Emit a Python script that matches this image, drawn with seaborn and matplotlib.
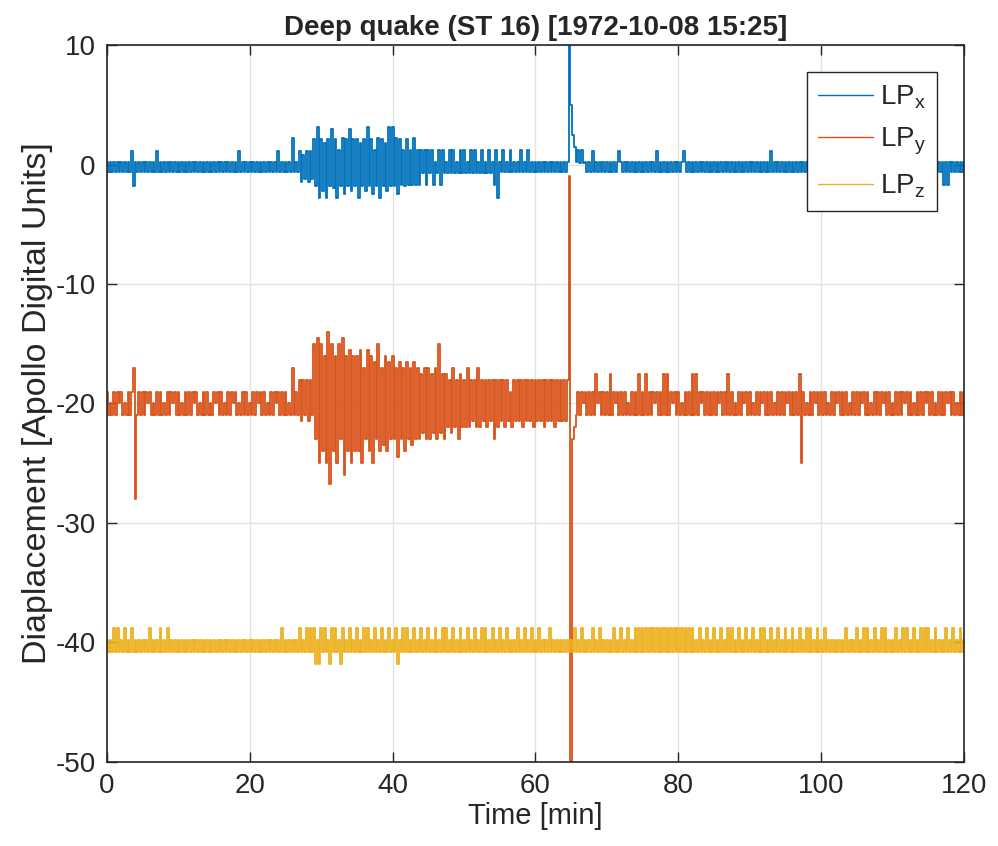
import numpy as np
import matplotlib
matplotlib.use("Agg")
import matplotlib.pyplot as plt
import seaborn as sns

# Sample step of the traces [min]; every row below covers 5 min (20 samples)
step_min = 0.25

lp_x_rows = [
    [0.2, -0.6, 0.2, -0.6, 0.2, -0.6, 0.2, -0.6, 0.2, -0.6, 0.2, -0.6, 0.2, -0.6, 1.1, -1.8, 0.2, -0.6, 0.2, -0.6],
    [0.2, -0.6, 0.2, -0.6, 0.2, -0.6, 0.2, -0.6, 1.1, -0.6, 0.2, -0.6, 0.2, -0.6, 0.2, -0.6, 0.2, -0.6, 0.2, -0.6],
    [0.2, -0.6, 0.2, -0.6, 0.2, -0.6, 0.2, -0.6, 0.2, -0.6, 0.2, -0.6, 0.2, -0.6, 0.2, -0.6, 0.2, -0.6, 0.2, -0.6],
    [0.2, -0.6, 0.2, -0.6, 0.2, -0.6, 0.2, -0.6, 0.2, -0.6, 0.2, -0.6, 0.2, -0.6, 1.1, -0.6, 0.2, -0.6, 0.2, -0.6],
    [0.2, -0.6, 0.2, -0.6, 0.2, -0.6, 0.2, -0.6, 0.2, -0.6, 0.2, -0.6, 0.2, -0.6, 0.2, -0.6, 1.1, -0.6, 0.2, -0.6],
    [0.2, -0.6, 0.2, -0.6, 2.2, -0.6, 0.2, -0.6, 1.1, -1.5, 0.8, -1.2, 1.1, -1.5, 1.1, -1.2, 2.1, -1.8, 3.1, -2.8],
    [2.1, -2.2, 1.8, -2.8, 2.1, -1.8, 3.0, -2.0, 2.1, -2.8, 1.2, -1.8, 2.2, -2.5, 2.1, -1.8, 3.0, -2.2, 2.1, -1.8],
    [2.1, -2.8, 1.8, -1.8, 2.1, -2.2, 3.1, -1.8, 2.1, -2.5, 1.2, -1.8, 2.2, -2.8, 2.1, -1.8, 1.8, -2.2, 3.1, -1.8],
    [3.1, -1.8, 2.2, -2.5, 2.1, -1.7, 1.2, -1.8, 2.1, -1.7, 1.2, -1.7, 2.2, -1.7, 1.2, -1.7, 1.2, -0.7, 1.2, -1.7],
    [1.2, -0.7, 1.2, -1.7, 0.2, -0.7, 1.2, -1.7, 1.2, -0.7, 0.2, -0.7, 1.2, -0.7, 1.2, -0.7, 0.2, -0.7, 1.2, -0.7],
    [1.2, -0.7, 0.2, -0.7, 1.2, -0.7, 1.2, -0.7, 0.2, -0.7, 1.2, -0.7, 0.2, -0.7, 1.2, -0.7, 0.2, -1.7, 1.2, -2.8],
    [0.2, -0.6, 1.2, -0.6, 0.2, -0.6, 1.2, -0.6, 0.2, -0.6, 0.2, -0.6, 1.2, -0.6, 0.2, -0.6, 1.2, -0.6, 0.2, -0.6],
    [0.2, -0.6, 0.2, -0.6, 0.2, -0.6, 0.2, -0.6, 0.2, -0.6, 0.2, -0.6, 0.2, -0.6, 0.2, -0.6, 0.2, -0.6, 0.2, 12.0],
    [5.0, 2.5, 1.5, 0.2, 1.2, 0.1, 1.2, 0.1, 0.2, -0.6, 0.2, -0.6, 1.1, -0.6, 0.2, -0.6, 0.2, -0.6, 0.2, -0.6],
    [0.2, -0.6, 0.2, -0.6, 0.2, -0.6, 0.2, 1.1, 0.2, -0.6, 0.2, -0.6, 0.2, -0.6, 0.2, -0.6, 0.2, -0.6, 0.2, -0.6],
    [0.2, -0.6, 0.2, -0.6, 0.2, -0.6, 0.2, -0.6, 1.1, -0.6, 0.2, -0.6, 0.2, -0.6, 0.2, -0.6, 0.2, -0.6, 0.2, -0.6],
    [0.2, -0.6, 0.2, 1.1, 0.2, -0.6, 0.2, -0.6, 0.2, -0.6, 0.2, -0.6, 0.2, -0.6, 0.2, -0.6, 0.2, -0.6, 0.2, -0.6],
    [0.2, -0.6, 0.2, -0.6, 0.2, -0.6, 0.2, -0.6, 0.2, -0.6, 0.2, -0.6, 0.2, -0.6, 0.2, -0.6, 0.2, -0.6, 0.2, -0.6],
    [0.2, -0.6, 0.2, -0.6, 0.2, -0.6, 0.2, -0.6, 0.2, -0.6, 0.2, -0.6, 1.1, -0.6, 0.2, -0.6, 0.2, -0.6, 0.2, -0.6],
    [0.2, -0.6, 0.2, -0.6, 0.2, -0.6, 0.2, -0.6, 0.2, -0.6, 0.2, -0.6, 0.2, -0.6, 0.2, -0.6, 0.2, -0.6, 0.2, -0.6],
    [0.2, -0.6, 0.2, -0.6, 0.2, -0.6, 0.2, -0.6, 0.2, -0.6, 0.2, -0.6, 0.2, -0.6, 0.2, -0.6, 0.2, -0.6, 0.2, -0.6],
    [0.2, -0.6, 0.2, -0.6, 0.2, -0.6, 0.2, -0.6, 0.2, -0.6, 0.2, -0.6, 0.2, -0.6, 0.2, -0.6, 0.2, -0.6, 0.2, -0.6],
    [0.2, -0.6, 0.2, -0.6, 0.2, -0.6, 0.2, -0.6, 0.2, -0.6, 0.2, -0.6, 0.2, -0.6, 0.2, -0.6, 0.2, -0.6, 0.2, -0.6],
    [0.2, -0.6, 0.2, -0.6, 0.2, -0.6, 0.2, -0.6, 0.2, -1.7, 0.2, -1.7, 0.2, -0.6, 0.2, -0.6, 0.2, -0.6, 0.2, -0.6],
    [0.2],
]

lp_y_rows = [
    [-19, -21, -20, -21, -19, -21, -19, -20, -19, -21, -20, -21, -19, -21, -19, -17, -28, -21, -19, -21],
    [-19, -21, -19, -20, -19, -21, -20, -21, -19, -21, -19, -21, -20, -21, -19, -21, -19, -20, -19, -21],
    [-19, -21, -20, -21, -19, -21, -19, -21, -19, -20, -19, -21, -20, -21, -19, -21, -19, -21, -20, -21],
    [-19, -20, -19, -21, -19, -21, -20, -21, -19, -21, -19, -20, -19, -21, -20, -21, -19, -21, -19, -21],
    [-20, -21, -19, -21, -19, -20, -19, -21, -19, -21, -20, -21, -19, -21, -19, -20, -19, -21, -19, -21],
    [-19, -21, -20, -21, -17, -21, -19, -21, -18, -21.5, -18, -21, -18, -21.5, -18, -21, -15, -23, -14.5, -25],
    [-15, -24, -16, -25, -14, -26.7, -15, -24, -16, -25, -15, -23, -14.5, -26, -16, -24, -15.5, -25, -16, -24],
    [-16, -24, -15.5, -25, -17, -23, -15.5, -24, -16, -25, -16.5, -23, -15, -24, -17, -23.5, -16, -24, -16.5, -23],
    [-16, -23, -17, -24.5, -16.5, -23, -17, -24, -16.5, -23, -17, -23.5, -16.5, -23, -17, -23, -17.5, -22.5, -17, -23],
    [-17, -23, -17.5, -22.5, -17, -23, -15, -22.5, -17.5, -23, -17.5, -22, -18, -22.5, -17, -22, -18, -23, -17.5, -22],
    [-18, -22, -17, -22, -18, -21.5, -18, -22, -17, -22, -18, -21.5, -18, -22, -18, -21.5, -18, -23, -18, -22],
    [-18, -21.5, -18, -22, -18, -21.5, -19, -22, -18, -21.5, -18, -21.5, -18, -22, -18, -21.5, -18, -21.5, -18, -22],
    [-18, -21.5, -18, -21.5, -18, -22, -18, -21.5, -18, -21.5, -18, -22, -18, -21.5, -18, -21.5, -18, -21.5, -18, -1],
    [-60, -23, -22, -21, -19, -21, -19, -20, -19, -21, -19, -21, -19, -21, -17.5, -20, -19, -21, -19, -21],
    [-19, -21, -17.5, -21, -19, -20, -19, -21, -19, -21, -19, -21, -20, -21, -19, -21, -19, -21, -17.5, -21],
    [-19, -21, -17.5, -21, -19, -21, -19, -20, -19, -21, -19, -21, -17.5, -21, -17.5, -21, -19, -20, -19, -21],
    [-19, -21, -20, -21, -19, -21, -19, -21, -17.5, -21, -17.5, -21, -19, -20, -19, -21, -19, -21, -19, -21],
    [-19, -21, -19, -20, -19, -21, -19, -21, -17.5, -21, -19, -21, -20, -21, -19, -21, -19, -20, -19, -21],
    [-19, -21, -20, -21, -19, -21, -19, -20, -19, -21, -19, -21, -19, -21, -20, -21, -19, -21, -19, -21],
    [-19, -20, -19, -21, -19, -21, -19, -21, -17.5, -25, -19, -21, -20, -21, -19, -21, -19, -20, -19, -21],
    [-19, -21, -19, -21, -20, -21, -19, -21, -19, -20, -19, -21, -19, -21, -19, -21, -20, -21, -19, -21],
    [-19, -21, -19, -20, -19, -21, -19, -21, -20, -21, -19, -21, -19, -21, -19, -20, -19, -21, -19, -21],
    [-20, -21, -19, -21, -19, -21, -19, -20, -19, -21, -19, -21, -20, -21, -19, -21, -19, -21, -19, -20],
    [-19, -21, -19, -21, -20, -21, -19, -21, -19, -21, -19, -20, -19, -21, -19, -21, -20, -21, -19, -21],
    [-19],
]

lp_z_rows = [
    [-39.8, -40.8, -39.8, -40.8, -38.8, -40.8, -38.8, -40.8, -39.8, -40.8, -38.8, -40.8, -39.8, -40.8, -38.8, -40.8, -39.8, -40.8, -39.8, -40.8],
    [-39.8, -40.8, -39.8, -40.8, -38.8, -40.8, -39.8, -40.8, -39.8, -40.8, -38.8, -40.8, -39.8, -40.8, -38.8, -40.8, -39.8, -40.8, -39.8, -40.8],
    [-39.8, -40.8, -39.8, -40.8, -39.8, -40.8, -39.8, -40.8, -39.8, -40.8, -39.8, -40.8, -39.8, -40.8, -39.8, -40.8, -39.8, -40.8, -39.8, -40.8],
    [-39.8, -40.8, -39.8, -40.8, -39.8, -40.8, -39.8, -40.8, -39.8, -40.8, -39.8, -40.8, -39.8, -40.8, -39.8, -40.8, -39.8, -40.8, -39.8, -40.8],
    [-39.8, -40.8, -39.8, -40.8, -39.8, -40.8, -39.8, -40.8, -39.8, -40.8, -39.8, -40.8, -39.8, -40.8, -39.8, -40.8, -39.8, -40.8, -38.8, -40.8],
    [-39.8, -40.8, -39.8, -40.8, -39.8, -40.8, -39.8, -40.8, -38.8, -40.8, -39.8, -40.8, -38.8, -40.8, -38.8, -40.8, -38.8, -41.8, -39.8, -41.8],
    [-38.8, -40.8, -38.8, -40.8, -39.8, -41.8, -38.8, -40.8, -38.8, -40.8, -39.8, -41.8, -38.8, -40.8, -39.8, -40.8, -38.8, -40.8, -39.8, -40.8],
    [-38.8, -40.8, -39.8, -40.8, -38.8, -40.8, -38.8, -40.8, -39.8, -40.8, -38.8, -40.8, -39.8, -40.8, -38.8, -40.8, -39.8, -40.8, -38.8, -40.8],
    [-39.8, -40.8, -38.8, -41.8, -39.8, -40.8, -38.8, -40.8, -38.8, -40.8, -39.8, -40.8, -38.8, -40.8, -39.8, -40.8, -38.8, -40.8, -39.8, -40.8],
    [-38.8, -40.8, -39.8, -40.8, -38.8, -40.8, -39.8, -40.8, -38.8, -40.8, -38.8, -40.8, -39.8, -40.8, -38.8, -40.8, -39.8, -40.8, -38.8, -40.8],
    [-39.8, -40.8, -38.8, -40.8, -39.8, -40.8, -38.8, -40.8, -39.8, -40.8, -38.8, -40.8, -38.8, -40.8, -39.8, -40.8, -38.8, -40.8, -39.8, -40.8],
    [-38.8, -40.8, -39.8, -40.8, -38.8, -40.8, -39.8, -40.8, -39.8, -40.8, -38.8, -40.8, -39.8, -40.8, -38.8, -40.8, -39.8, -40.8, -38.8, -40.8],
    [-39.8, -40.8, -38.8, -40.8, -39.8, -40.8, -39.8, -40.8, -38.8, -40.8, -39.8, -40.8, -39.8, -40.8, -39.8, -40.8, -39.8, -40.8, -39.8, -40.8],
    [-39.8, -40.8, -38.8, -40.8, -39.8, -40.8, -38.8, -40.8, -39.8, -40.8, -39.8, -40.8, -38.8, -40.8, -39.8, -40.8, -38.8, -40.8, -39.8, -40.8],
    [-39.8, -40.8, -39.8, -40.8, -38.8, -40.8, -39.8, -40.8, -38.8, -40.8, -39.8, -40.8, -38.8, -40.8, -39.8, -40.8, -38.8, -40.8, -38.8, -40.8],
    [-38.8, -40.8, -38.8, -40.8, -38.8, -40.8, -38.8, -40.8, -38.8, -40.8, -38.8, -40.8, -38.8, -40.8, -38.8, -40.8, -38.8, -40.8, -38.8, -40.8],
    [-38.8, -40.8, -38.8, -40.8, -38.8, -40.8, -38.8, -40.8, -38.8, -40.8, -39.8, -40.8, -38.8, -40.8, -39.8, -40.8, -38.8, -40.8, -39.8, -40.8],
    [-38.8, -40.8, -39.8, -40.8, -38.8, -40.8, -39.8, -40.8, -38.8, -40.8, -38.8, -40.8, -39.8, -40.8, -38.8, -40.8, -39.8, -40.8, -38.8, -40.8],
    [-39.8, -40.8, -38.8, -40.8, -39.8, -40.8, -38.8, -40.8, -38.8, -40.8, -39.8, -40.8, -38.8, -40.8, -39.8, -40.8, -38.8, -40.8, -39.8, -40.8],
    [-38.8, -40.8, -39.8, -40.8, -38.8, -40.8, -39.8, -40.8, -38.8, -40.8, -39.8, -40.8, -38.8, -40.8, -38.8, -40.8, -39.8, -40.8, -38.8, -40.8],
    [-39.8, -40.8, -38.8, -40.8, -39.8, -40.8, -39.8, -40.8, -39.8, -40.8, -39.8, -40.8, -39.8, -40.8, -38.8, -40.8, -39.8, -40.8, -39.8, -40.8],
    [-38.8, -40.8, -39.8, -40.8, -38.8, -40.8, -38.8, -40.8, -39.8, -40.8, -38.8, -40.8, -39.8, -40.8, -38.8, -40.8, -38.8, -40.8, -39.8, -40.8],
    [-39.8, -40.8, -38.8, -40.8, -39.8, -40.8, -38.8, -40.8, -38.8, -40.8, -39.8, -40.8, -38.8, -40.8, -39.8, -40.8, -38.8, -40.8, -38.8, -40.8],
    [-38.8, -40.8, -39.8, -40.8, -38.8, -40.8, -39.8, -40.8, -39.8, -40.8, -38.8, -40.8, -39.8, -40.8, -38.8, -40.8, -39.8, -40.8, -38.8, -40.8],
    [-39.8],
]

series_names = ["LP$_\\mathregular{x}$", "LP$_\\mathregular{y}$", "LP$_\\mathregular{z}$"]
series_colors = ["#0072BD", "#D95319", "#EDB120"]

lp_x = np.concatenate(lp_x_rows)
lp_y = np.concatenate(lp_y_rows)
lp_z = np.concatenate(lp_z_rows)
time_min = np.arange(len(lp_x)) * step_min

sns.set_style("ticks")
plt.rcParams["font.family"] = ["Liberation Sans", "DejaVu Sans"]
plt.rcParams["mathtext.default"] = "regular"
plt.rcParams["axes.unicode_minus"] = False

fig = plt.figure(figsize=(9.98, 8.46), dpi=100)
ax = fig.add_axes([0.1072, 0.0993, 0.8587, 0.8475])

for vals, name, col in zip((lp_x, lp_y, lp_z), series_names, series_colors):
    sns.lineplot(x=time_min, y=vals, ax=ax, color=col, linewidth=1.3,
                 label=name, estimator=None, sort=False, drawstyle="steps-mid")

ax.set_xlim(0, 120)
ax.set_ylim(-50, 10)
ax.set_xticks(np.arange(0, 121, 20))
ax.set_yticks(np.arange(-50, 11, 10))
ax.grid(True, color="#e3e3e3", linewidth=1.0)
ax.set_axisbelow(True)
for sp in ax.spines.values():
    sp.set_color("#262626")
    sp.set_linewidth(1.2)
ax.tick_params(direction="in", top=True, right=True, length=7, width=1,
               labelsize=20, colors="#262626", pad=8)

ax.set_title("Deep quake (ST 16) [1972-10-08 15:25]", fontsize=20,
             fontweight="bold", pad=7)
ax.set_xlabel("Time [min]", fontsize=21, color="#262626", labelpad=2)
ax.set_ylabel("Diaplacement [Apollo Digital Units]", fontsize=24.5,
              color="#262626", labelpad=2)

leg = ax.legend(loc="upper right", bbox_to_anchor=(0.969, 0.962),
                borderaxespad=0, fontsize=20, handlelength=2.0,
                fancybox=False, framealpha=1, edgecolor="#262626",
                borderpad=0.4, labelspacing=0.55, handletextpad=0.25)
leg.get_frame().set_linewidth(1.0)
for line in leg.get_lines():
    line.set_linewidth(1.0)

fig.savefig("out.png", dpi=100)
